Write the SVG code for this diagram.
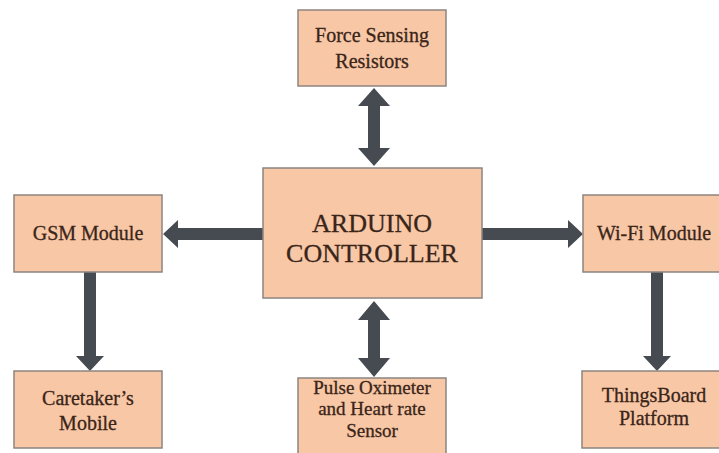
<svg xmlns="http://www.w3.org/2000/svg" width="719" height="453" viewBox="0 0 719 453">
<style>
.box{fill:#f8c7a6;stroke:#8c8580;stroke-width:1.5}
.t{font-family:'Liberation Serif','Times New Roman',serif;font-size:20px;fill:#3a2519;text-anchor:middle;stroke:#3a2519;stroke-width:0.3}
.big{font-size:26px}
.sm{font-size:19px}
.arr{fill:#454b50}
</style>
<rect width="719" height="453" fill="#ffffff"/>
<g id="connectors">
<polygon class="arr" points="368,106 358,106 374,88 390,106 380,106 380,148 390,148 374,166 358,148 368,148"/>
<polygon class="arr" points="368,320 358,320 374,301 390,320 380,320 380,358 390,358 374,377 358,358 368,358"/>
<polygon class="arr" points="263,228 178,228 178,220 163,234 178,248 178,240 263,240"/>
<polygon class="arr" points="482,228 568,228 568,220 583,234 568,248 568,240 482,240"/>
<polygon class="arr" points="84,272 96,272 96,356 104,356 90,371 76,356 84,356"/>
<polygon class="arr" points="651,272 663,272 663,356 671,356 657,371 643,356 651,356"/>
</g>
<g id="force"><rect class="box" x="298" y="10" width="148" height="76"/><text class="t" x="372" y="42">Force Sensing</text><text class="t" x="372" y="68">Resistors</text></g>
<g id="arduino"><rect class="box" x="263" y="168" width="219" height="130"/><text class="t big" x="372" y="232">ARDUINO</text><text class="t big" x="372" y="262">CONTROLLER</text></g>
<g id="gsm"><rect class="box" x="14" y="195" width="148" height="77"/><text class="t" x="88" y="240">GSM Module</text></g>
<g id="wifi"><rect class="box" x="583" y="195" width="145" height="77"/><text class="t" x="654" y="240">Wi-Fi Module</text></g>
<g id="caretaker"><rect class="box" x="14" y="371" width="148" height="77"/><text class="t" x="88" y="405">Caretaker’s</text><text class="t" x="88" y="430">Mobile</text></g>
<g id="pulse"><rect class="box" x="298" y="378" width="148" height="80"/><text class="t sm" x="372" y="394">Pulse Oximeter</text><text class="t sm" x="372" y="415">and Heart rate</text><text class="t sm" x="372" y="437">Sensor</text></g>
<g id="thingsboard"><rect class="box" x="582" y="371" width="146" height="77"/><text class="t" x="654" y="402">ThingsBoard</text><text class="t" x="654" y="425">Platform</text></g>
</svg>
